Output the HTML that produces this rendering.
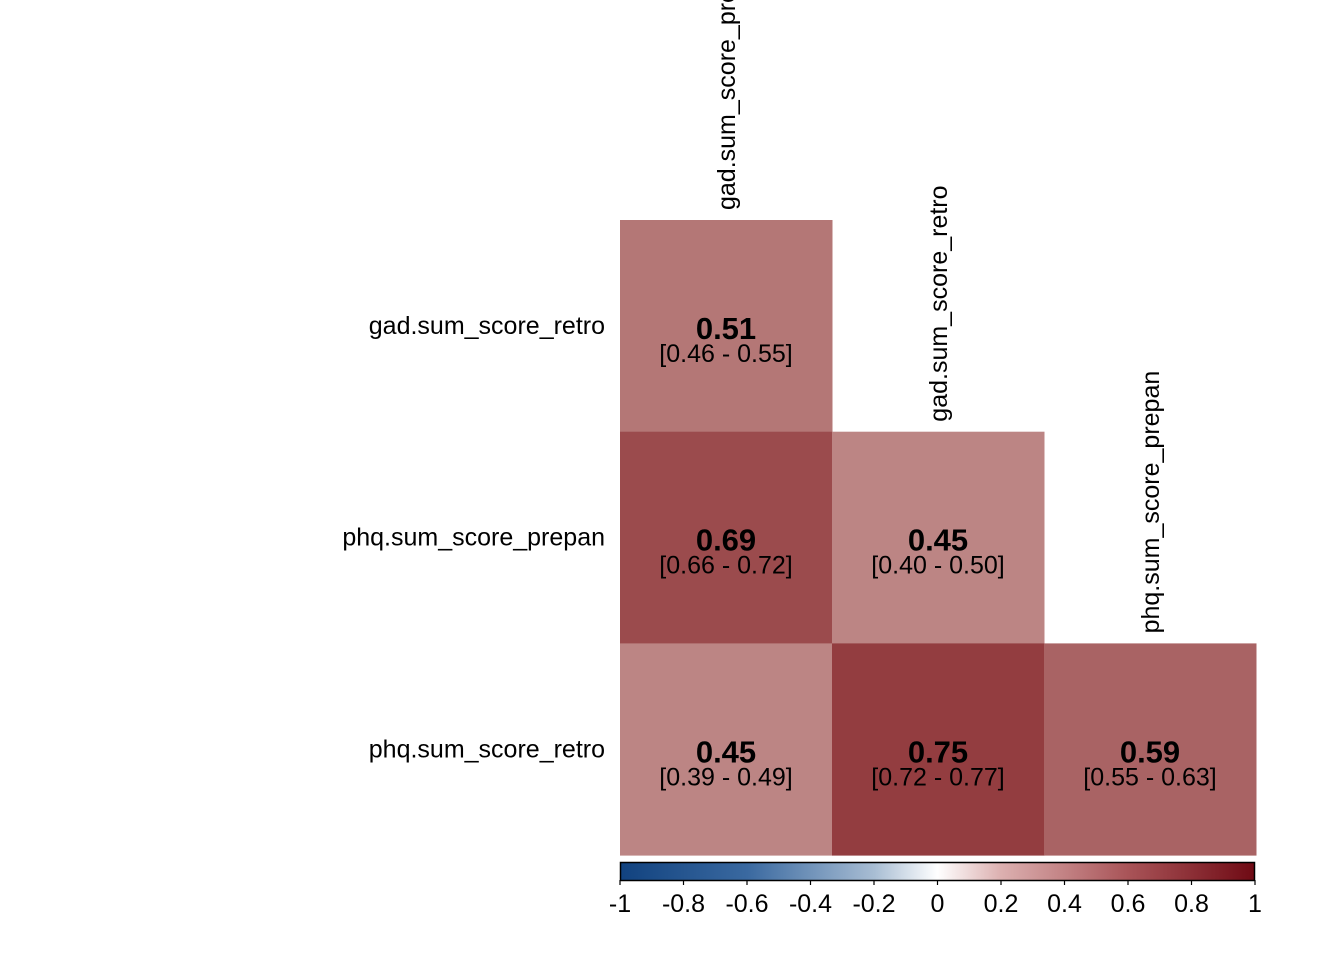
<!DOCTYPE html>
<html><head><meta charset="utf-8">
<style>
html,body{margin:0;padding:0;background:#fff;}
svg{display:block;font-family:"Liberation Sans",Arial,sans-serif;}
</style></head>
<body>
<svg id="chart" width="1344" height="960" viewBox="0 0 1344 960">
<defs>
<linearGradient id="grad" x1="0" x2="1" y1="0" y2="0">
<stop offset="0" stop-color="#11427f"/>
<stop offset="0.2" stop-color="#3a69a0"/>
<stop offset="0.4" stop-color="#a8bdd3"/>
<stop offset="0.5" stop-color="#ffffff"/>
<stop offset="0.6" stop-color="#dcb0b0"/>
<stop offset="0.8" stop-color="#a95458"/>
<stop offset="1" stop-color="#6f0a14"/>
</linearGradient>
</defs>
</svg>
<script>
const rowLabels = ["gad.sum_score_retro","phq.sum_score_prepan","phq.sum_score_retro"];
const colLabels = ["gad.sum_score_prepan","gad.sum_score_retro","phq.sum_score_prepan"];
const cellRow = [0,1,1,2,2,2];
const cellCol = [0,0,1,0,1,2];
const cellValue = [0.51,0.69,0.45,0.45,0.75,0.59];
const cellLow = ["0.46","0.66","0.40","0.39","0.72","0.55"];
const cellHigh = ["0.55","0.72","0.50","0.49","0.77","0.63"];
const tickValues = [-1,-0.8,-0.6,-0.4,-0.2,0,0.2,0.4,0.6,0.8,1];
const tickLabels = ["-1","-0.8","-0.6","-0.4","-0.2","0","0.2","0.4","0.6","0.8","1"];

const svg = document.getElementById('chart');
const NS = 'http://www.w3.org/2000/svg';
const x0 = 620, y0 = 220, cw = 212, ch = 211.7;
const xPos = c => x0 + c * cw;
const yPos = r => y0 + r * ch;
const barX = v => 620 + (v + 1) / 2 * 635;
function color(v){
  const r = Math.round(250 - 137*v), g = Math.round(241 - 240*v), b = Math.round(234 - 227*v);
  return `rgb(${r},${g},${b})`;
}
function mk(tag, attrs, text){
  const e = document.createElementNS(NS, tag);
  for (const k in attrs) e.setAttribute(k, attrs[k]);
  if (text !== undefined) e.textContent = text;
  svg.appendChild(e);
  return e;
}
cellValue.forEach((v,i)=>{
  const x = xPos(cellCol[i]), y = yPos(cellRow[i]);
  const r = mk('rect',{x:x,y:y,width:cw+0.5,height:ch+0.5,fill:color(v)});
  
  
  const t = mk('text',{x:x+cw/2,y:y+ch/2+13,'text-anchor':'middle','font-size':'31','font-weight':'bold',fill:'#000'},v.toFixed(2));
  
  
  const c = mk('text',{x:x+cw/2,y:y+ch/2+36,'text-anchor':'middle','font-size':'25',fill:'#000'},`[${cellLow[i]} - ${cellHigh[i]}]`);
  
  
});
rowLabels.forEach((l,i)=>{
  const t = mk('text',{x:605,y:yPos(i)+ch/2+8,'text-anchor':'end','font-size':'25',fill:'#000'},l);
  
  
});
colLabels.forEach((l,i)=>{
  const cx = xPos(i)+cw/2+9, by = yPos(i)-10;
  const t = mk('text',{x:cx,y:by,transform:`rotate(-90 ${cx} ${by})`,'font-size':'25',fill:'#000'},l);
  
  
});
const bar = mk('rect',{x:620.5,y:862.5,width:634,height:18,fill:'url(#grad)',stroke:'#000','stroke-width':'1.5'});


tickValues.forEach((v,i)=>{
  const x = barX(v);
  const tk = mk('line',{x1:x,x2:x,y1:880,y2:885,stroke:'#000','stroke-width':'1.2'});
  
  
  const t = mk('text',{x:x,y:912,'text-anchor':'middle','font-size':'25',fill:'#000'},tickLabels[i]);
  
  
});
</script>
</body></html>
